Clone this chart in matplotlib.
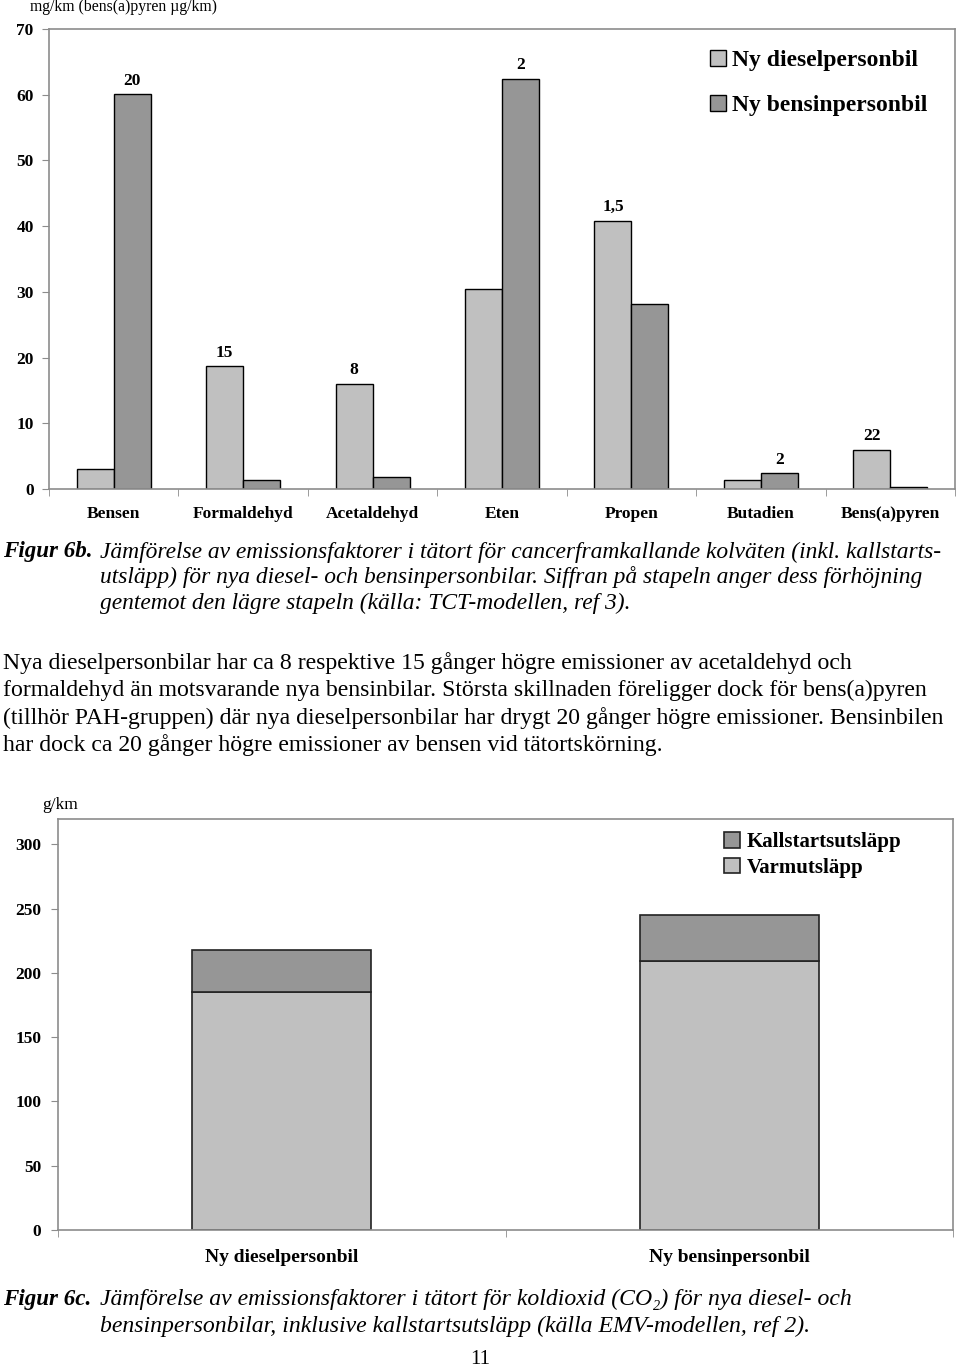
import matplotlib
matplotlib.use("Agg")
import matplotlib.pyplot as plt
import numpy as np

plt.rcParams['font.family'] = ['Liberation Serif', 'DejaVu Serif']

# figure 6b data (mg/km, bens(a)pyren in ug/km)
categories = ["Bensen", "Formaldehyd", "Acetaldehyd", "Eten", "Propen", "Butadien", "Bens(a)pyren"]
diesel = [3.0, 18.7, 16.0, 30.5, 40.8, 1.3, 6.0]
bensin = [60.1, 1.3, 1.9, 62.4, 28.1, 2.4, 0.3]
ratio_labels = ["20", "15", "8", "2", "1,5", "2", "22"]
series_6b = ["Ny dieselpersonbil", "Ny bensinpersonbil"]

# figure 6c data (g/km CO2)
cars = ["Ny dieselpersonbil", "Ny bensinpersonbil"]
warm = [185, 209]
cold = [33, 36]
series_6c = ["Kallstartsutsläpp", "Varmutsläpp"]

LIGHT = "#c0c0c0"
DARK = "#969696"
GREY = "#8c8c8c"

W, H = 960, 1369
fig = plt.figure(figsize=(W / 100, H / 100), dpi=100)


def fx(x):
    return x / W


def fy(y):
    return 1 - y / H


def style_frame(ax):
    for s in ax.spines.values():
        s.set_color(GREY)
        s.set_linewidth(1.2)


# ---------- Figur 6b ----------
ax1 = fig.add_axes([fx(49), fy(489), fx(955) - fx(49), fy(29) - fy(489)])
x = np.arange(len(categories))
bw = 0.286
b1 = ax1.bar(x - bw / 2, diesel, bw, color=LIGHT, edgecolor="black", linewidth=1, label=series_6b[0])
b2 = ax1.bar(x + bw / 2, bensin, bw, color=DARK, edgecolor="black", linewidth=1, label=series_6b[1])
for i, lab in enumerate(ratio_labels):
    if diesel[i] >= bensin[i]:
        xp, yp = x[i] - bw / 2, diesel[i]
    else:
        xp, yp = x[i] + bw / 2, bensin[i]
    ax1.annotate(lab, (xp, yp), xytext=(0, 4), textcoords="offset points",
                 ha="center", va="bottom", fontsize=12.5, fontweight="bold")
ax1.set_xlim(-0.5, len(categories) - 0.5)
ax1.set_ylim(0, 70)
ax1.set_yticks(range(0, 71, 10))
ax1.set_xticks(x)
ax1.set_xticklabels(categories, fontsize=12.5, fontweight="bold")
ax1.set_xticks(np.arange(-0.5, len(categories), 1), minor=True)
ax1.tick_params(axis="x", which="major", length=0, pad=12)
ax1.tick_params(axis="x", which="minor", length=5, color=GREY)
ax1.tick_params(axis="y", length=5, color=GREY, pad=6, labelsize=12.5)
for t in ax1.get_yticklabels():
    t.set_fontweight("bold")
style_frame(ax1)
ax1.legend(handles=[b1, b2], loc="upper left", bbox_to_anchor=(fx(710), fy(50)),
           bbox_transform=fig.transFigure, frameon=False, borderpad=0, borderaxespad=0,
           handlelength=0.68, handleheight=0.68, handletextpad=0.25, labelspacing=1.0,
           prop={"size": 17, "weight": "bold"})
fig.text(fx(30), fy(7), "mg/km (bens(a)pyren µg/km)", fontsize=11.3, va="center", ha="left")

# caption 6b
cap_b = ["Jämförelse av emissionsfaktorer i tätort för cancerframkallande kolväten (inkl. kallstarts-",
         "utsläpp) för nya diesel- och bensinpersonbilar. Siffran på stapeln anger dess förhöjning",
         "gentemot den lägre stapeln (källa: TCT-modellen, ref 3)."]
fig.text(fx(3), fy(552), "Figur 6b.", fontsize=16.6, fontweight="bold", style="italic", va="center")
for k, line in enumerate(cap_b):
    fig.text(fx(100), fy(552 + 25.5 * k), line, fontsize=16.9, style="italic", va="center")

# paragraph
para = ["Nya dieselpersonbilar har ca 8 respektive 15 gånger högre emissioner av acetaldehyd och",
        "formaldehyd än motsvarande nya bensinbilar. Största skillnaden föreligger dock för bens(a)pyren",
        "(tillhör PAH-gruppen) där nya dieselpersonbilar har drygt 20 gånger högre emissioner. Bensinbilen",
        "har dock ca 20 gånger högre emissioner av bensen vid tätortskörning."]
for k, line in enumerate(para):
    fig.text(fx(3), fy(663 + 27.3 * k), line, fontsize=17.1, va="center")

# ---------- Figur 6c ----------
ax2 = fig.add_axes([fx(58), fy(1230), fx(953) - fx(58), fy(818.7) - fy(1230)])
x2 = np.arange(len(cars))
bw2 = 0.4
c_warm = ax2.bar(x2, warm, bw2, color=LIGHT, edgecolor="#222222", linewidth=1.2, label=series_6c[1])
c_cold = ax2.bar(x2, cold, bw2, bottom=warm, color=DARK, edgecolor="#222222", linewidth=1.2,
                 label=series_6c[0])
ax2.set_xlim(-0.5, len(cars) - 0.5)
ax2.set_ylim(0, 320)
ax2.set_yticks(range(0, 301, 50))
ax2.set_xticks(x2)
ax2.set_xticklabels(cars, fontsize=14, fontweight="bold")
ax2.set_xticks(np.arange(-0.5, len(cars), 1), minor=True)
ax2.tick_params(axis="x", which="major", length=0, pad=14)
ax2.tick_params(axis="x", which="minor", length=5, color=GREY)
ax2.tick_params(axis="y", length=5, color=GREY, pad=7, labelsize=12.5)
for t in ax2.get_yticklabels():
    t.set_fontweight("bold")
style_frame(ax2)
ax2.legend(handles=[c_cold, c_warm], loc="upper left", bbox_to_anchor=(fx(724), fy(832)),
           bbox_transform=fig.transFigure, frameon=False, borderpad=0, borderaxespad=0,
           handlelength=0.77, handleheight=0.77, handletextpad=0.3, labelspacing=0.28,
           prop={"size": 15, "weight": "bold"})
fig.text(fx(42), fy(805), "g/km", fontsize=12.5, va="center", ha="left")

# caption 6c
cap_c = ["Jämförelse av emissionsfaktorer i tätort för koldioxid (CO₂) för nya diesel- och",
         "bensinpersonbilar, inklusive kallstartsutsläpp (källa EMV-modellen, ref 2)."]
fig.text(fx(3), fy(1299), "Figur 6c.", fontsize=16.6, fontweight="bold", style="italic", va="center")
for k, line in enumerate(cap_c):
    fig.text(fx(100), fy(1299 + 27 * k), line, fontsize=17.1, style="italic", va="center")

fig.text(fx(480), fy(1360), "11", fontsize=15, ha="center", va="center")

fig.savefig("out.png", dpi=100)
